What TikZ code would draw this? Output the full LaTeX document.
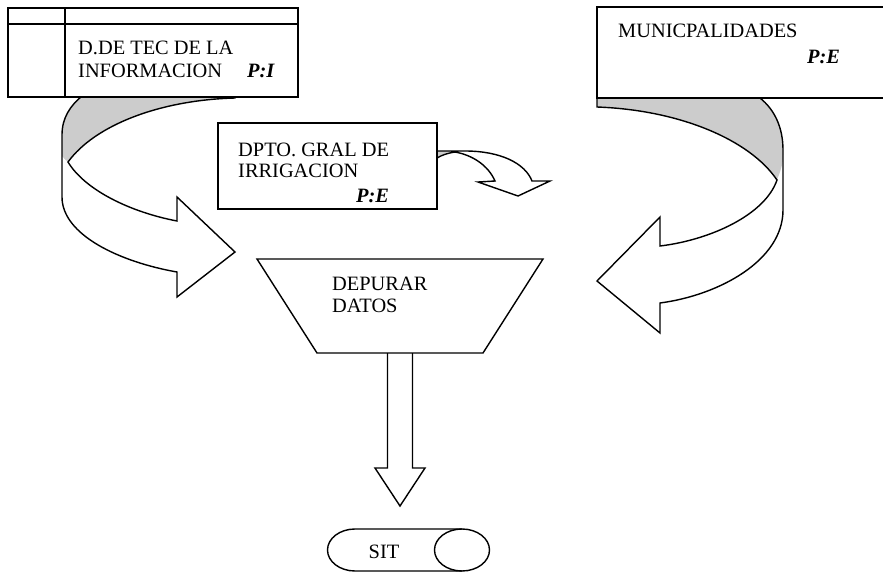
\documentclass[tikz,border=0pt]{standalone}
\usepackage{fontspec}
\setmainfont{Liberation Serif}
\usetikzlibrary{fit}

\definecolor{ribbon}{RGB}{204,204,204}

\tikzset{
  rim/.style={line width=1.2pt, line join=miter},
  box/.style={draw, line width=1.2pt, fill=white, inner sep=0pt, outer sep=0pt},
  txt/.style={anchor=base west, inner sep=0pt, font=\fontsize{17.4}{21}\selectfont},
  tag/.style={txt, font=\fontsize{17.4}{21}\selectfont\bfseries\itshape},
}

\begin{document}
\begin{tikzpicture}[x=0.03cm, y=-0.03cm]

    \clip (0,0) rectangle (883,581);

    % Left curved arrow
    \fill[ribbon] (235,96) -- (82,96) .. controls (70,106) and (62,118) .. (62,135)
        -- (62,156) .. controls (64,159) and (66,160) .. (68,162)
        .. controls (95,125) and (160,100) .. (235,98) -- cycle;
    \draw[rim] (82,96) .. controls (70,106) and (62,118) .. (62,135) -- (62,197)
        .. controls (62,235) and (120,262) .. (177,272) -- (177,297) -- (235,252)
        -- (177,197) -- (177,221) .. controls (130,212) and (85,190) .. (68,162)
        .. controls (95,125) and (160,100) .. (235,98) -- (235,96);

    % Right curved arrow
    \fill[ribbon] (597,98) -- (597,107) .. controls (680,110) and (750,140) .. (777,180)
        .. controls (780,172) and (783,165) .. (783,155) -- (783,150)
        .. controls (783,128) and (775,110) .. (760,98) -- cycle;
    \draw[rim] (597,98) -- (597,107) .. controls (680,110) and (750,140) .. (777,180)
        .. controls (765,215) and (710,240) .. (660,246) -- (660,217) -- (597,281)
        -- (660,333) -- (660,303) .. controls (720,295) and (783,260) .. (783,210)
        -- (783,150) .. controls (783,128) and (775,110) .. (760,98);

    % Small arrow next to DPTO
    \fill[ribbon] (437,151) -- (456,151) .. controls (448,152) and (442,154) .. (437,158) -- cycle;
    \draw[rim] (437,151) -- (465,151) .. controls (500,151) and (525,163) .. (532,181)
        -- (550,181) -- (518,196) -- (478,182) -- (495,181)
        .. controls (488,165) and (472,155) .. (455,152)
        .. controls (448,153) and (442,155) .. (437,158);

    % Boxes
    \node[box, fit={(8,8) (298,97)}] (dti) {};
    \draw[rim] (8,24) -- (298,24);
    \draw[rim] (65,8) -- (65,97);
    \node[box, fit={(597,7) (890,98)}] (muni) {};
    \node[box, fit={(218,123) (437,209)}] (dgi) {};

    % Box texts
    \node[txt] (dti-1) at (78,54) {D.DE TEC DE LA};
    \node[txt] (dti-2) at (78,77) {INFORMACION};
    \node[tag] (dti-p) at (247,77) {P:I};
    \node[txt] (muni-1) at (618,37) {MUNICPALIDADES};
    \node[tag] (muni-p) at (807,63) {P:E};
    \node[txt] (dgi-1) at (238,156) {DPTO. GRAL DE};
    \node[txt] (dgi-2) at (238,177) {IRRIGACION};
    \node[tag] (dgi-p) at (356,202) {P:E};

    % Depurar datos
    \draw[rim] (257,259) coordinate (dep-nw) -- (543,259) coordinate (dep-ne)
        -- (483,353) coordinate (dep-se) -- (317,353) coordinate (dep-sw) -- cycle;
    \coordinate (dep-s) at (400,353);
    \node[txt] (dep-1) at (332,290) {DEPURAR};
    \node[txt] (dep-2) at (332,312) {DATOS};

    % SIT
    \coordinate (sit) at (408.5,529);
    \draw[rim] (462,571) -- (355,571)
        arc[start angle=90, end angle=270, x radius=27.5, y radius=21] -- (462,529);
    \draw[rim] (462,550) ellipse [x radius=27.5, y radius=21];
    \node[txt, anchor=base] (sit-t) at (384,558) {SIT};

    % Arrow down to SIT
    \draw[rim, shift={(dep-s)}] (-12.5,0) -- (-12.5,115) -- (-25,115) -- (0,153)
        -- (25,115) -- (12.5,115) -- (12.5,0);

\end{tikzpicture}
\end{document}
